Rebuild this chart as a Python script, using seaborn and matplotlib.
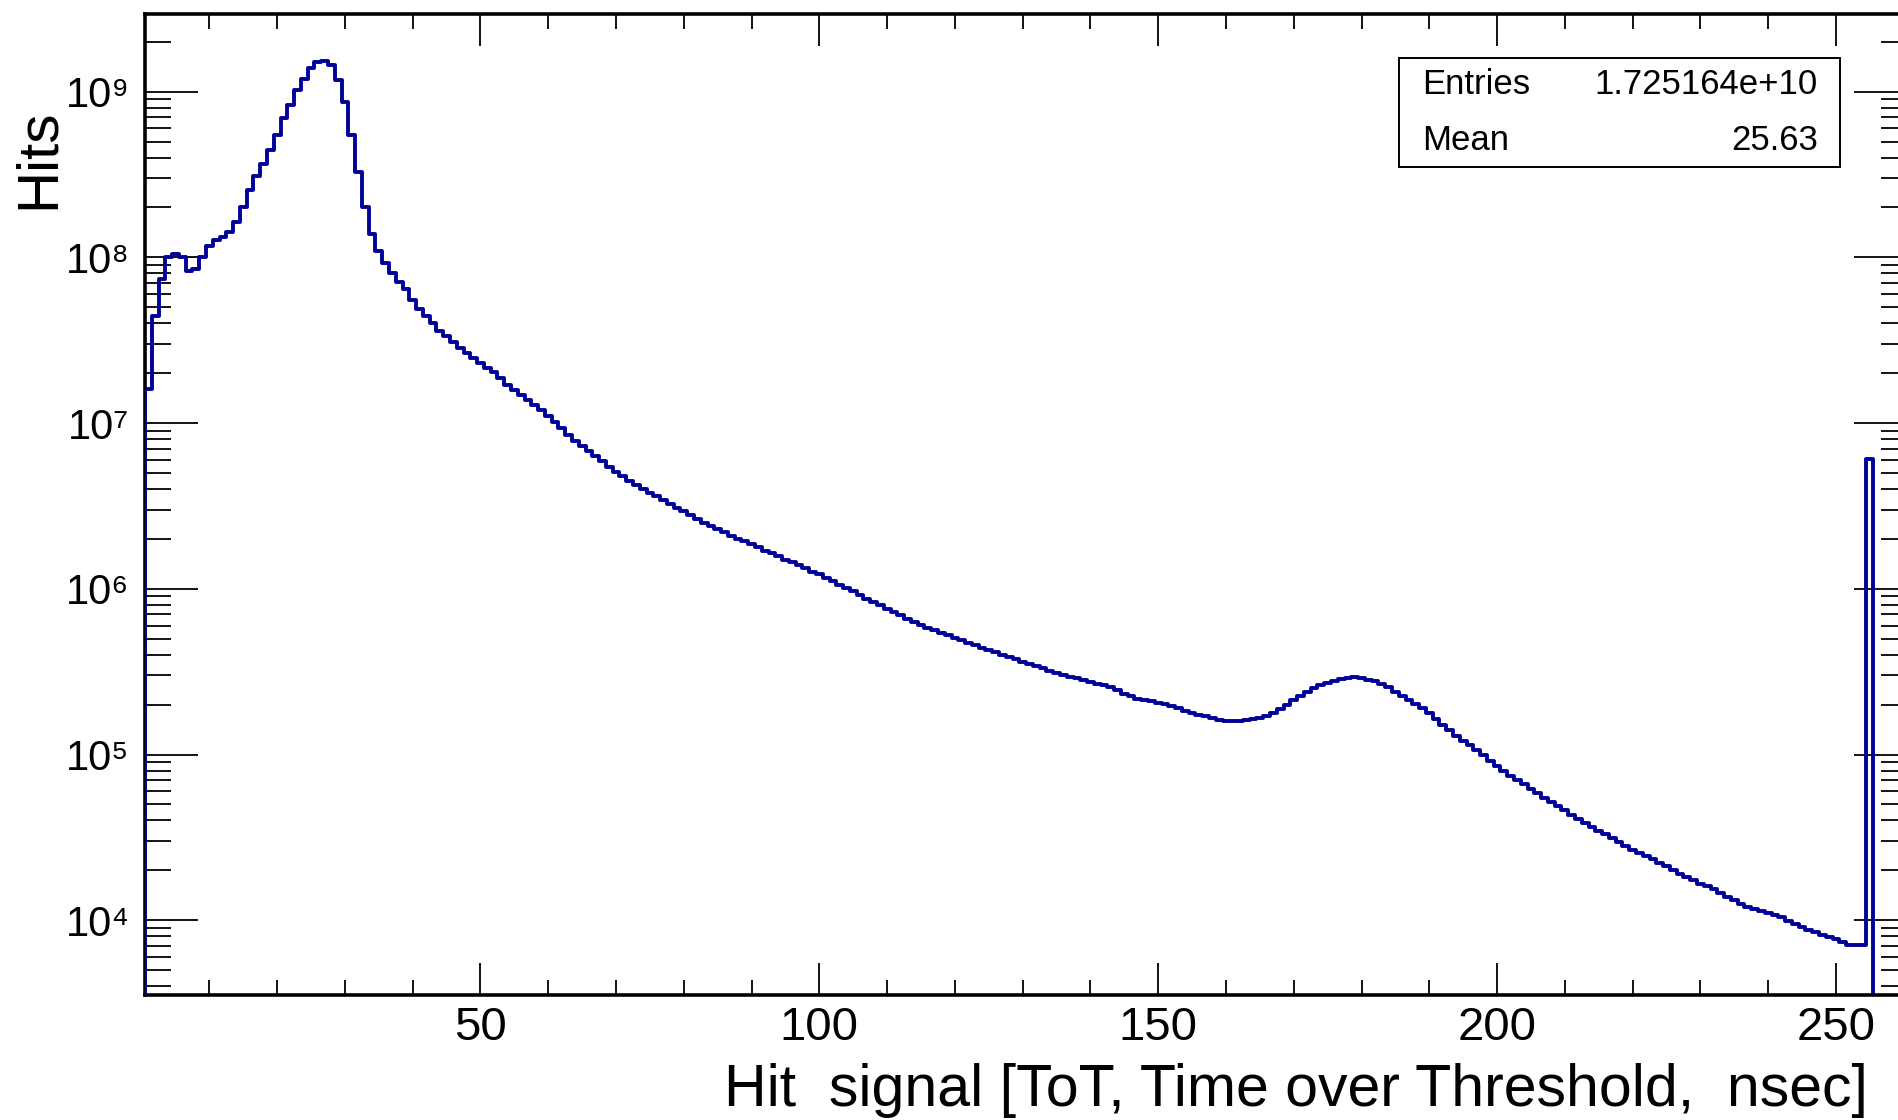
import matplotlib
matplotlib.use("Agg")
import matplotlib.pyplot as plt
import numpy as np
import seaborn as sns
from matplotlib.patches import Rectangle
from matplotlib.ticker import FuncFormatter, LogLocator, MultipleLocator, NullFormatter

# ToT value of each bin (bins of width 1 centred on integers 1..260)
tot = np.arange(1, 261)

# hits per bin
hits_rise = [1.6e7, 4.4e7, 7.4e7, 1.0e8, 1.05e8, 1.0e8, 8.3e7, 8.5e7, 1.0e8, 1.17e8,
             1.28e8, 1.32e8, 1.43e8, 1.64e8, 2.02e8, 2.55e8, 3.09e8, 3.66e8, 4.43e8, 5.5e8,
             6.9e8, 8.3e8, 1.02e9, 1.19e9, 1.38e9, 1.5e9, 1.53e9, 1.45e9, 1.17e9, 8.6e8,
             5.5e8, 3.27e8, 2.0e8, 1.38e8, 1.09e8, 9.3e7, 8.1e7, 7.1e7, 6.4e7, 5.5e7,
             4.9e7, 4.4e7, 4.0e7, 3.6e7, 3.37e7, 3.1e7, 2.85e7, 2.63e7, 2.46e7, 2.3e7,
             2.16e7, 2.04e7]
hits_tail = [1.86e7, 1.70e7, 1.58e7, 1.48e7, 1.38e7, 1.29e7, 1.20e7, 1.11e7, 1.02e7, 9.33e6,
             8.51e6, 7.76e6, 7.24e6, 6.76e6, 6.31e6, 5.89e6, 5.43e6, 5.07e6, 4.79e6, 4.47e6,
             4.22e6, 3.98e6, 3.80e6, 3.63e6, 3.43e6, 3.27e6, 3.09e6, 2.95e6, 2.79e6, 2.63e6,
             2.51e6, 2.40e6, 2.29e6, 2.19e6, 2.09e6, 2.00e6, 1.95e6, 1.86e6, 1.78e6, 1.70e6,
             1.64e6, 1.57e6, 1.50e6, 1.45e6, 1.40e6, 1.33e6, 1.27e6, 1.22e6, 1.16e6, 1.11e6,
             1.06e6, 1.01e6, 9.66e5, 9.12e5, 8.71e5, 8.32e5, 7.94e5, 7.59e5, 7.24e5, 6.92e5,
             6.61e5, 6.31e5, 6.03e5, 5.82e5, 5.62e5, 5.43e5, 5.25e5, 5.07e5, 4.90e5, 4.73e5,
             4.57e5, 4.42e5, 4.27e5, 4.14e5, 4.01e5, 3.89e5, 3.76e5, 3.63e5, 3.52e5, 3.41e5,
             3.31e5, 3.21e5, 3.12e5, 3.03e5, 2.95e5, 2.88e5, 2.81e5, 2.74e5, 2.67e5, 2.61e5,
             2.55e5]
hits_bump = [2.45e5, 2.32e5, 2.24e5, 2.17e5, 2.12e5, 2.09e5, 2.06e5, 2.01e5, 1.96e5, 1.91e5,
             1.84e5, 1.78e5, 1.74e5, 1.70e5, 1.65e5, 1.62e5, 1.60e5, 1.60e5, 1.60e5, 1.61e5,
             1.63e5, 1.66e5, 1.72e5, 1.79e5, 1.88e5, 1.99e5, 2.12e5, 2.26e5, 2.39e5, 2.51e5,
             2.62e5, 2.72e5, 2.79e5, 2.86e5, 2.90e5, 2.92e5, 2.88e5, 2.83e5, 2.77e5, 2.66e5,
             2.54e5, 2.40e5, 2.27e5, 2.14e5, 2.01e5, 1.91e5, 1.78e5, 1.64e5, 1.51e5, 1.40e5,
             1.30e5, 1.21e5, 1.14e5, 1.06e5, 9.89e4, 9.18e4, 8.55e4]
hits_falloff = [8.00e4, 7.46e4, 7.03e4, 6.62e4, 6.22e4, 5.85e4, 5.50e4, 5.20e4, 4.92e4, 4.61e4,
                4.34e4, 4.07e4, 3.85e4, 3.63e4, 3.46e4, 3.30e4, 3.14e4, 2.96e4, 2.80e4, 2.67e4,
                2.54e4, 2.43e4, 2.34e4, 2.23e4, 2.12e4, 2.01e4, 1.91e4, 1.82e4, 1.74e4, 1.66e4,
                1.60e4, 1.54e4, 1.46e4, 1.38e4, 1.32e4, 1.26e4, 1.21e4, 1.17e4, 1.14e4, 1.10e4,
                1.07e4, 1.04e4, 9.91e3, 9.51e3, 9.12e3, 8.79e3, 8.47e3, 8.18e3, 7.93e3, 7.67e3,
                7.38e3, 7.08e3, 7.05e3, 7.05e3]
hits_overflow = [6.1e6, 0, 0, 0, 0, 0]

hits = np.array(hits_rise + hits_tail + hits_bump + hits_falloff + hits_overflow)

stats_labels = ["Entries", "Mean"]
stats_values = ["1.725164e+10", "25.63"]

LINE = "#000099"
SUP = str.maketrans("0123456789", "⁰¹²³⁴⁵⁶⁷⁸⁹")

sns.set_style("ticks")
plt.rcParams["font.family"] = ["Liberation Sans", "DejaVu Sans"]
plt.rcParams.update({"text.color": "black", "axes.labelcolor": "black",
                     "xtick.color": "black", "ytick.color": "black",
                     "axes.edgecolor": "black"})

fig = plt.figure(figsize=(18.98, 11.2), dpi=100)
ax = fig.add_axes([0.0764, 0.1116, 0.9284, 0.8759])

sns.histplot(x=tot, weights=hits, discrete=True, element="step", fill=False,
             color=LINE, linewidth=2.8, ax=ax)
ax.set_yscale("log")
ax.set_xlim(0.5, 260.5)
ax.set_ylim(3.54e3, 2.94e9)
# left edge of the first bin, drawn like ROOT does
ax.vlines(tot[0] - 0.5, ax.get_ylim()[0], hits[0], color=LINE, lw=2.8, zorder=3)

ax.xaxis.set_major_locator(MultipleLocator(50))
ax.xaxis.set_minor_locator(MultipleLocator(10))
ax.yaxis.set_major_locator(LogLocator(base=10, numticks=20))
ax.yaxis.set_minor_locator(LogLocator(base=10, subs=np.arange(2, 10), numticks=20))
ax.yaxis.set_minor_formatter(NullFormatter())
ax.yaxis.set_major_formatter(FuncFormatter(
    lambda v, _: "10" + str(int(round(np.log10(v)))).translate(SUP)))
ax.tick_params(axis="x", which="major", direction="in", length=23, width=1.3,
               top=True, labelsize=34, pad=8)
ax.tick_params(axis="x", which="minor", direction="in", length=11, width=1.3, top=True)
ax.tick_params(axis="y", which="major", direction="in", length=38, width=1.3,
               right=True, labelsize=30, pad=11)
ax.tick_params(axis="y", which="minor", direction="in", length=19, width=1.3, right=True)
for s in ax.spines.values():
    s.set_linewidth(2.6)

ax.set_xlabel("Hit  signal [ToT, Time over Threshold,  nsec]", fontsize=42.5, ha="right")
ax.xaxis.set_label_coords(0.978, -0.069)
ax.set_ylabel("Hits", fontsize=42)
ax.yaxis.set_label_coords(-0.045, 0.852)

# stats box
ax.add_patch(Rectangle((0.7117, 0.844), 0.2503, 0.111, transform=ax.transAxes,
                       facecolor="white", edgecolor="black", lw=1.4, zorder=5))
for lab, val, y in zip(stats_labels, stats_values, [0.928, 0.8712]):
    ax.text(0.7248, y, lab, transform=ax.transAxes, fontsize=25, ha="left",
            va="center", zorder=6)
    ax.text(0.9495, y, val, transform=ax.transAxes, fontsize=25, ha="right",
            va="center", zorder=6)

fig.savefig("out.png", dpi=100)
